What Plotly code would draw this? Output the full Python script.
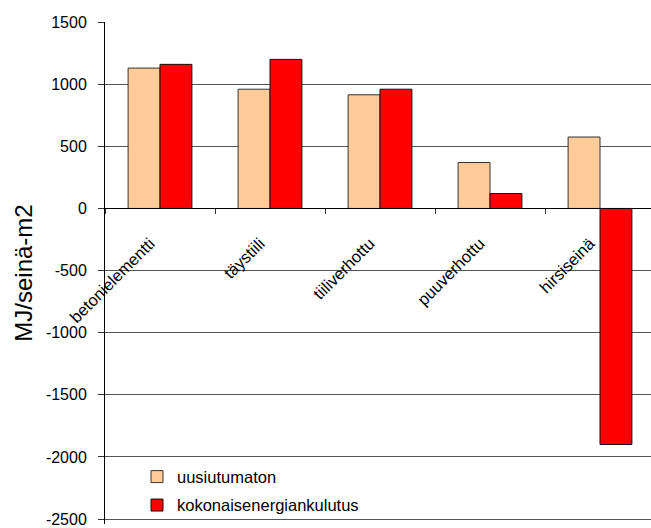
import plotly.graph_objects as go

# Wall types and energy figures (MJ per m2 of wall)
categories = ["betonielementti", "täystiili", "tiiliverhottu", "puuverhottu", "hirsiseinä"]
uusiutumaton = [1130, 960, 915, 370, 575]
kokonaisenergia = [1160, 1200, 960, 120, -1900]
y_ticks = [1500, 1000, 500, 0, -500, -1000, -1500, -2000, -2500]

Y_MIN, Y_MAX = -2540, 1501

fig = go.Figure()
fig.add_trace(go.Bar(
    x=categories, y=uusiutumaton, name="uusiutumaton",
    legendgroup="a",
    marker=dict(color="#FFCC99", line=dict(color="#333333", width=1)),
))
fig.add_trace(go.Bar(
    x=categories, y=kokonaisenergia, name="kokonaisenergiankulutus",
    legendgroup="b",
    marker=dict(color="#FF0000", line=dict(color="#111111", width=1)),
))

W, H = 651, 528
px_per_unit = 500 / 4000
ml, mr, mt = 105, 0, 22
plot_h = round((Y_MAX - Y_MIN) * px_per_unit)
mb = H - mt - plot_h
plot_w = W - ml - mr
cat_px = 110  # pixel width of one category slot
x_range = [-0.5, -0.5 + plot_w / cat_px]

def y_px(v):
    return mt + (Y_MAX - v) * px_per_unit

fig.update_layout(
    width=W, height=H,
    margin=dict(l=ml, r=mr, t=mt, b=mb, pad=0),
    paper_bgcolor="white", plot_bgcolor="white",
    barmode="group", bargap=0.42, bargroupgap=0,
    font=dict(family="Liberation Sans, Arial, sans-serif", color="black"),
    showlegend=True,
    legend=dict(
        x=(137 - ml) / plot_w, y=(H - mb - 462) / plot_h,
        xanchor="left", yanchor="top",
        bgcolor="rgba(255,255,255,0)", borderwidth=0,
        font=dict(size=16.5, family="Liberation Sans, Arial, sans-serif"),
        traceorder="grouped", tracegroupgap=4,
        itemwidth=30,
    ),
    xaxis=dict(
        type="category", range=x_range,
        anchor="free", position=(0 - Y_MIN) / (Y_MAX - Y_MIN),
        showline=True, linecolor="black", linewidth=1,
        ticks="outside", ticklen=5, tickcolor="#333333",
        tickson="boundaries", showgrid=False,
        tickangle=-45, tickfont=dict(size=16.5),
        ticklabelstandoff=18, ticklabelshift=-10,
        zeroline=False,
    ),
    yaxis=dict(
        range=[Y_MIN, Y_MAX], domain=[0, 1],
        tickvals=y_ticks, ticktext=[str(v) for v in y_ticks],
        showline=True, linecolor="black", linewidth=1,
        ticks="outside", ticklen=6, tickcolor="#333333",
        tickfont=dict(size=16), ticklabelstandoff=8,
        ticklabeloverflow="allow",
        showgrid=True, gridcolor="#555555", gridwidth=1,
        zeroline=True, zerolinecolor="black", zerolinewidth=1,
        title=dict(text="MJ/seinä-m2", font=dict(size=24), standoff=6),
    ),
)

fig.write_html("out.html")
